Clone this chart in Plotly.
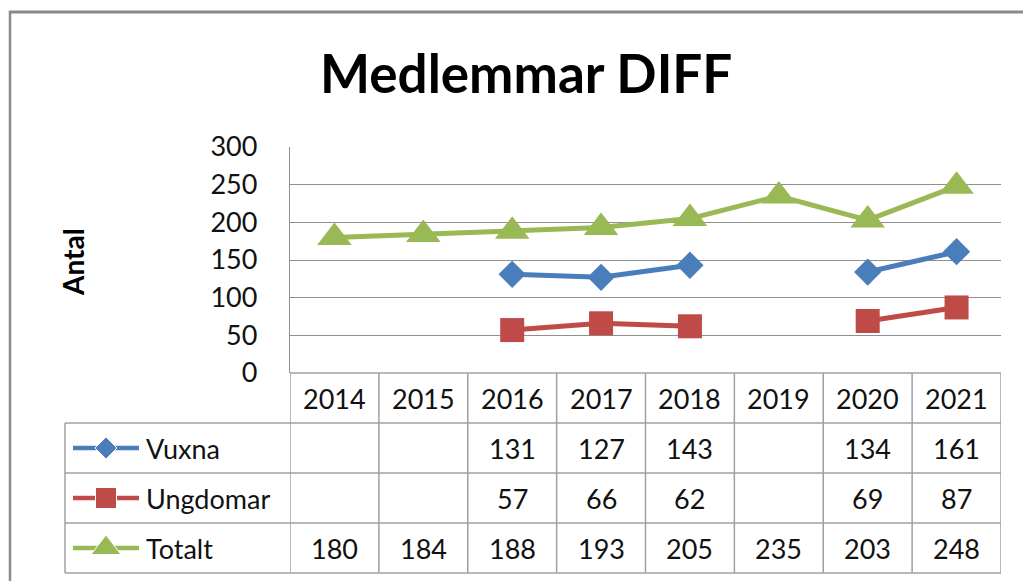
import plotly.graph_objects as go

years = ["2014", "2015", "2016", "2017", "2018", "2019", "2020", "2021"]
vuxna = [None, None, 131, 127, 143, None, 134, 161]
ungdomar = [None, None, 57, 66, 62, None, 69, 87]
totalt = [180, 184, 188, 193, 205, 235, 203, 248]
series_names = ["Vuxna", "Ungdomar", "Totalt"]
y_ticks = [0, 50, 100, 150, 200, 250, 300]

W, H = 1023, 581
def px(x): return x / W
def py(y): return 1 - y / H

colors = ["#4A7EBB", "#BE4B48", "#98B954"]
symbols = ["diamond", "square", "triangle-up"]
msizes = [21, 24, 30]
legend_sizes = [17, 21, 26]
FONT = "Lato"
GRID = "#8f8f8f"
TBL = "#a0a0a0"

left, right, top, bottom = 290, 1001, 147, 373
row_h = 50
label_left = 65

fig = go.Figure()
for name, vals, c, s, ms in zip(series_names, [vuxna, ungdomar, totalt], colors, symbols, msizes):
    fig.add_trace(go.Scatter(
        x=years, y=vals, name=name, mode="lines+markers",
        line=dict(color=c, width=5), marker=dict(symbol=s, size=ms, color=c),
        connectgaps=False, showlegend=False, hoverinfo="skip"))

# legend icons inside the table (pixel axis covering the whole figure)
for i, (c, s, ms) in enumerate(zip(colors, symbols, legend_sizes)):
    yc = bottom + row_h * (i + 1) + row_h / 2
    fig.add_trace(go.Scatter(
        x=[73, 106, 139], y=[yc, yc, yc], mode="lines+markers",
        line=dict(color=c, width=4.5),
        marker=dict(symbol=s, size=[0, ms, 0], color=c, opacity=1),
        xaxis="x2", yaxis="y2", showlegend=False, hoverinfo="skip"))

shapes = []
# outer chart border (top and left edges visible)
shapes.append(dict(type="line", xref="paper", yref="paper",
                   x0=px(9), x1=1, y0=py(12), y1=py(12),
                   line=dict(color="#8a8a8a", width=3)))
shapes.append(dict(type="line", xref="paper", yref="paper",
                   x0=px(10), x1=px(10), y0=py(11), y1=0,
                   line=dict(color="#8a8a8a", width=2.5)))
# table horizontal lines
shapes.append(dict(type="line", xref="paper", yref="paper", x0=px(left), x1=px(right),
                   y0=py(bottom), y1=py(bottom), line=dict(color=TBL, width=1.5)))
for k in range(1, 5):
    yy = bottom + row_h * k
    shapes.append(dict(type="line", xref="paper", yref="paper", x0=px(label_left), x1=px(right),
                       y0=py(yy), y1=py(yy), line=dict(color=TBL, width=1.5)))
# table vertical lines
shapes.append(dict(type="line", xref="paper", yref="paper", x0=px(label_left), x1=px(label_left),
                   y0=py(bottom + row_h), y1=py(bottom + 4 * row_h), line=dict(color=TBL, width=1.5)))
for j in range(len(years) + 1):
    shapes.append(dict(type="line", xref="x", yref="paper", x0=j - 0.5, x1=j - 0.5,
                       y0=py(bottom), y1=py(bottom + 4 * row_h), line=dict(color=TBL, width=1.5)))

annotations = []
annotations.append(dict(text="<b>Medlemmar DIFF</b>", xref="paper", yref="paper",
                        x=px(526), y=py(72), xanchor="center", yanchor="middle",
                        showarrow=False, font=dict(family=FONT, size=53, color="#000")))
annotations.append(dict(text="<b>Antal</b>", xref="paper", yref="paper",
                        x=px(73), y=py(262), xanchor="center", yanchor="middle", textangle=-90,
                        showarrow=False, font=dict(family=FONT, size=28, color="#000")))
cell_font = dict(family=FONT, size=27, color="#111")
for j, yr in enumerate(years):
    annotations.append(dict(text=yr, xref="x", yref="paper", x=j, y=py(bottom + row_h / 2),
                            xanchor="center", yanchor="middle", showarrow=False, font=cell_font))
for i, (name, vals) in enumerate(zip(series_names, [vuxna, ungdomar, totalt])):
    yc = bottom + row_h * (i + 1) + row_h / 2
    annotations.append(dict(text=name, xref="paper", yref="paper", x=px(144), y=py(yc),
                            xanchor="left", yanchor="middle", showarrow=False, font=cell_font))
    for j, v in enumerate(vals):
        if v is not None:
            annotations.append(dict(text=str(v), xref="x", yref="paper", x=j, y=py(yc),
                                    xanchor="center", yanchor="middle", showarrow=False, font=cell_font))

fig.update_layout(
    width=W, height=H, margin=dict(l=0, r=0, t=0, b=0, pad=0), autosize=False,
    paper_bgcolor="white", plot_bgcolor="rgba(0,0,0,0)",
    shapes=shapes, annotations=annotations,
    xaxis=dict(domain=[px(left), px(right)], type="category", categoryorder="array",
               categoryarray=years, range=[-0.5, len(years) - 0.5], automargin=False,
               showticklabels=False, showgrid=False, zeroline=False, showline=False, fixedrange=True),
    yaxis=dict(domain=[py(bottom), py(top)], range=[0, 300], tickvals=y_ticks, automargin=False,
               showgrid=True, gridcolor=GRID, gridwidth=1.3, zeroline=False,
               showline=True, linecolor=GRID, linewidth=1.3,
               ticks="", ticklabelstandoff=26,
               tickfont=dict(family=FONT, size=27, color="#111"), fixedrange=True),
    xaxis2=dict(domain=[0, 1], range=[0, W], visible=False, anchor="y2", automargin=False, fixedrange=True),
    yaxis2=dict(domain=[0, 1], range=[H, 0], visible=False, anchor="x2", automargin=False, fixedrange=True),
)

fig.write_html("out.html", config={"displayModeBar": False},
               post_script="document.body.style.margin='0';document.body.style.overflow='hidden';")
